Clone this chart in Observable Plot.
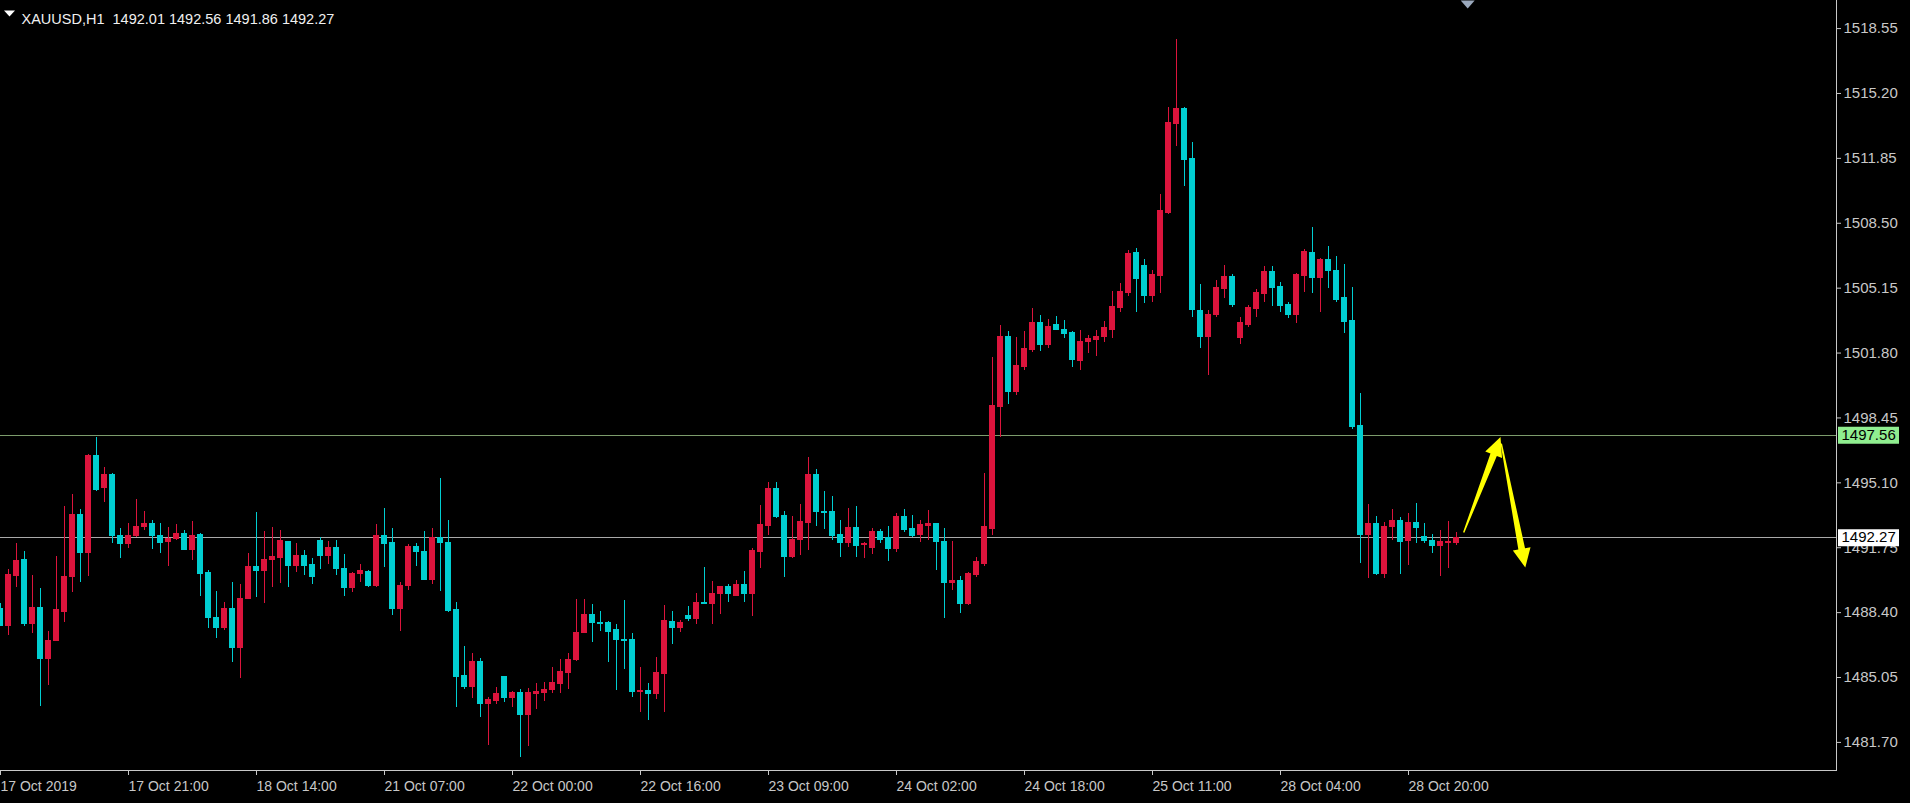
<!DOCTYPE html>
<html><head><meta charset="utf-8">
<script src="https://cdn.jsdelivr.net/npm/d3@7"></script>
<script src="https://cdn.jsdelivr.net/npm/@observablehq/plot@0.6"></script>
<style>
html,body{margin:0;padding:0;background:#000;}
#chart{position:relative;width:1910px;height:803px;overflow:hidden;}
</style></head><body><div id="chart"></div>
<script>
const titleText = "XAUUSD,H1  1492.01 1492.56 1491.86 1492.27";

const open = [1488.59,1487.73,1490.28,1491.12,1487.82,1488.63,1486.01,1486.96,1488.42,1490.23,
1493.46,1491.47,1496.51,1494.82,1495.48,1492.33,1491.95,1492.33,1492.81,1492.95,
1492.36,1492.03,1492.19,1492.47,1491.61,1492.43,1490.43,1488.13,1487.61,1488.59,
1486.58,1489.11,1490.78,1490.54,1491.12,1491.23,1492.07,1490.83,1491.30,1490.88,
1492.09,1491.30,1491.73,1490.66,1489.68,1490.37,1490.52,1489.75,1492.33,1491.98,
1488.59,1489.77,1491.78,1491.55,1490.11,1492.24,1492.02,1488.51,1485.12,1484.55,
1485.84,1483.69,1483.86,1485.07,1484.00,1484.26,1483.12,1484.21,1484.26,1484.38,
1484.72,1485.29,1485.93,1487.36,1488.30,1487.85,1487.85,1487.48,1487.01,1486.99,
1484.29,1484.35,1484.21,1485.24,1487.91,1487.61,1488.25,1488.08,1488.90,1488.85,
1489.34,1489.71,1489.28,1489.85,1489.34,1491.52,1492.86,1494.79,1493.41,1491.26,
1492.17,1493.02,1495.48,1493.62,1493.58,1492.41,1492.02,1492.76,1491.90,1491.73,
1492.55,1492.24,1491.69,1493.36,1492.74,1492.43,1492.86,1492.98,1492.07,1489.92,
1490.01,1488.82,1490.32,1490.92,1492.73,1499.00,1502.65,1499.81,1501.07,1501.98,
1503.34,1502.19,1503.27,1503.01,1502.84,1501.41,1502.36,1502.45,1502.65,1503.01,
1504.11,1504.89,1506.94,1506.27,1504.72,1505.80,1509.02,1513.63,1514.41,1511.83,
1503.99,1502.65,1503.74,1505.12,1505.71,1502.57,1503.27,1504.08,1504.86,1505.97,
1505.20,1504.29,1503.74,1505.80,1506.95,1505.66,1506.61,1506.06,1504.63,1503.43,
1498.02,1492.42,1492.95,1490.40,1492.81,1493.15,1492.09,1493.04,1492.29,1492.12,
1491.85,1491.99,1492.01];

const high = [1488.85,1490.61,1491.95,1491.55,1490.32,1489.63,1487.44,1491.30,1493.88,1494.50,
1493.70,1496.55,1497.42,1495.87,1495.60,1492.73,1492.98,1494.22,1493.64,1493.15,
1492.98,1492.81,1492.95,1492.64,1493.12,1492.47,1490.57,1489.51,1488.94,1489.94,
1489.85,1491.43,1493.57,1492.59,1492.81,1492.64,1492.09,1491.95,1491.61,1491.18,
1492.29,1492.09,1492.12,1491.40,1490.45,1490.88,1490.55,1492.95,1493.79,1492.73,
1489.97,1491.90,1491.95,1492.59,1492.76,1495.30,1493.15,1488.94,1486.67,1486.27,
1486.01,1484.03,1484.55,1485.10,1484.35,1484.41,1484.46,1484.76,1484.77,1485.58,
1485.98,1486.27,1489.08,1489.08,1488.80,1488.46,1487.94,1487.77,1489.03,1487.34,
1485.58,1484.72,1486.10,1488.77,1488.47,1487.99,1488.72,1489.37,1490.75,1490.01,
1489.75,1489.85,1490.06,1490.52,1491.69,1493.93,1495.10,1495.13,1493.64,1493.36,
1493.98,1496.39,1495.77,1494.65,1494.39,1493.15,1493.76,1493.88,1492.04,1492.73,
1492.67,1492.86,1493.50,1493.71,1493.41,1493.15,1493.67,1493.02,1492.73,1492.07,
1490.26,1490.45,1491.26,1495.57,1501.55,1503.22,1502.93,1502.62,1502.93,1504.11,
1503.74,1503.52,1503.69,1503.48,1502.93,1502.96,1502.71,1502.96,1503.43,1504.98,
1505.40,1507.10,1507.20,1506.63,1506.06,1509.98,1514.48,1517.99,1514.49,1512.68,
1505.34,1503.99,1505.54,1506.32,1505.85,1503.65,1504.25,1505.06,1506.27,1506.27,
1505.46,1504.42,1505.89,1507.13,1508.30,1506.66,1507.30,1506.78,1506.37,1505.17,
1499.70,1493.98,1493.36,1493.07,1493.71,1493.29,1493.50,1494.02,1493.02,1492.43,
1492.64,1493.12,1492.56];

const low = [1487.68,1487.22,1489.71,1487.70,1487.30,1483.55,1484.64,1486.90,1487.91,1489.45,
1489.97,1490.26,1494.67,1494.10,1491.95,1491.18,1491.69,1492.29,1492.64,1491.64,
1491.47,1490.80,1492.12,1491.61,1491.09,1489.23,1487.56,1487.05,1487.47,1485.81,
1485.01,1489.08,1489.20,1488.85,1489.71,1489.92,1489.71,1490.49,1490.32,1489.83,
1490.61,1490.88,1490.32,1489.23,1489.42,1489.97,1489.68,1489.71,1490.71,1488.25,
1487.44,1489.54,1490.80,1490.09,1489.83,1489.49,1488.42,1483.48,1484.41,1483.95,
1483.00,1481.54,1483.65,1483.78,1483.52,1480.94,1481.49,1483.38,1483.83,1484.21,
1484.21,1484.43,1485.89,1487.34,1486.87,1487.44,1485.84,1484.38,1485.45,1484.03,
1483.26,1482.83,1483.90,1483.26,1486.74,1487.36,1487.96,1487.79,1488.80,1487.77,
1488.29,1488.94,1489.25,1488.94,1488.22,1490.66,1492.38,1493.24,1490.21,1491.21,
1491.35,1491.61,1492.84,1492.69,1492.12,1491.26,1491.78,1491.26,1491.17,1491.40,
1491.95,1491.06,1491.52,1492.52,1492.29,1492.04,1492.12,1490.57,1488.08,1489.54,
1488.34,1488.77,1490.23,1490.78,1492.38,1497.45,1499.14,1499.61,1500.90,1501.84,
1501.89,1502.05,1502.96,1502.53,1501.04,1500.90,1501.76,1501.64,1502.36,1502.53,
1503.91,1504.70,1503.91,1504.36,1504.42,1504.89,1508.95,1512.46,1510.40,1503.65,
1502.02,1500.64,1503.65,1504.60,1504.17,1502.24,1503.10,1503.65,1504.42,1504.22,
1503.91,1503.57,1503.34,1504.94,1504.89,1503.91,1505.12,1504.42,1502.79,1497.84,
1490.92,1490.14,1490.32,1490.18,1492.12,1490.35,1490.83,1491.98,1491.95,1491.47,
1490.26,1490.66,1491.86];

const close = [1487.73,1490.32,1491.09,1487.82,1488.63,1486.01,1486.96,1488.51,1490.26,1493.46,
1491.47,1496.51,1494.74,1495.48,1492.33,1491.95,1492.38,1492.84,1492.98,1492.33,
1491.98,1492.21,1492.47,1491.64,1492.33,1490.40,1488.13,1487.61,1488.59,1486.58,
1489.11,1490.78,1490.54,1491.12,1491.26,1492.09,1490.83,1491.30,1490.83,1490.23,
1491.30,1491.73,1490.64,1489.68,1490.40,1490.54,1489.75,1492.33,1491.95,1488.59,
1489.80,1491.78,1491.52,1490.11,1492.24,1491.98,1488.47,1485.10,1484.55,1485.84,
1483.69,1483.90,1484.21,1484.00,1484.26,1483.12,1484.26,1484.29,1484.41,1484.76,
1485.33,1485.96,1487.36,1488.30,1487.87,1487.82,1487.41,1486.99,1486.96,1484.29,
1484.35,1484.21,1485.29,1487.96,1487.61,1487.85,1488.08,1488.90,1488.85,1489.34,
1489.71,1489.34,1489.85,1489.34,1491.57,1492.90,1494.79,1493.36,1491.26,1492.17,
1493.07,1495.48,1493.58,1493.55,1492.38,1491.98,1492.76,1491.86,1491.95,1492.55,
1492.17,1491.69,1493.36,1492.69,1492.36,1492.90,1492.98,1492.04,1489.92,1490.01,
1488.85,1490.37,1491.00,1492.81,1499.06,1502.65,1499.81,1501.12,1502.02,1503.34,
1502.22,1503.13,1503.00,1502.79,1501.45,1502.36,1502.51,1502.65,1503.08,1504.20,
1504.94,1506.90,1505.60,1504.77,1505.85,1509.11,1513.67,1514.41,1511.78,1504.03,
1502.65,1503.79,1505.15,1505.71,1504.29,1503.34,1504.14,1504.89,1505.97,1505.15,
1504.22,1503.74,1505.85,1507.01,1505.66,1506.61,1506.02,1504.55,1503.39,1497.97,
1492.42,1492.95,1490.37,1492.84,1493.15,1492.03,1493.04,1492.76,1492.09,1491.85,
1492.07,1492.07,1492.27];

const timeLabels = ["17 Oct 2019","17 Oct 21:00","18 Oct 14:00","21 Oct 07:00","22 Oct 00:00","22 Oct 16:00",
  "23 Oct 09:00","24 Oct 02:00","24 Oct 18:00","25 Oct 11:00","28 Oct 04:00","28 Oct 20:00"];
const timeLabelBars = [0,16,32,48,64,80,96,112,128,144,160,176];
const priceTicks = [1518.55,1515.20,1511.85,1508.50,1505.15,1501.80,1498.45,1495.10,1491.75,1488.40,1485.05,1481.70];
const levelPrices = [1497.56, 1492.27];
const levelLineColors = ["#7c9c6c", "#a9a9a9"];
const levelLabelColors = ["#90ee90", "#ffffff"];
const arrowTailBars = [182.9, 187.6];
const arrowTailPrices = [1492.54, 1497.13];
const arrowTipBars = [187.5, 190.6];
const arrowTipPrices = [1497.46, 1490.73];
const shiftMarkerBar = [183.4];

const W = 1910, H = 803, mL = 0, mR = 74, mT = 0, mB = 33;
const xDomain = [0, 229.5], yDomain = [1480.25, 1520.0];
const upColor = "#dc143c", downColor = "#00ced1";
const fmt = d3.format(".2f");

const bars = open.map((o, i) => ({i, open: o, high: high[i], low: low[i], close: close[i]}));
const col = d => d.close >= d.open ? upColor : downColor;
const levels = levelPrices.map((p, k) => ({price: p, line: levelLineColors[k], bg: levelLabelColors[k]}));

const sx = Plot.scale({x: {domain: xDomain, range: [mL, W - mR]}});
const sy = Plot.scale({y: {domain: yDomain, range: [H - mB, mT]}});

function rectSymbol(w, h) {
  return {draw(ctx) { ctx.rect(-w / 2, -h / 2, w, h); }};
}
function downTriangle(w, h) {
  return {draw(ctx) { ctx.moveTo(-w / 2, 0); ctx.lineTo(w / 2, 0); ctx.lineTo(0, h); ctx.closePath(); }};
}
function arrowSymbol(k) {
  const tx = sx.apply(arrowTipBars[k]), ty = sy.apply(arrowTipPrices[k]);
  const bx = sx.apply(arrowTailBars[k]), by = sy.apply(arrowTailPrices[k]);
  const vx = bx - tx, vy = by - ty, len = Math.hypot(vx, vy);
  const ux = vx / len, uy = vy / len, nx = -uy, ny = ux;
  const hl = 19, hw = 9, sw = 3.4, tw = 0.7;
  return {draw(ctx) {
    const px = ux * hl, py = uy * hl;
    ctx.moveTo(0, 0);
    ctx.lineTo(px + nx * hw, py + ny * hw);
    ctx.lineTo(px + nx * sw, py + ny * sw);
    ctx.lineTo(vx + nx * tw, vy + ny * tw);
    ctx.lineTo(vx - nx * tw, vy - ny * tw);
    ctx.lineTo(px - nx * sw, py - ny * sw);
    ctx.lineTo(px - nx * hw, py - ny * hw);
    ctx.closePath();
  }};
}

const arrowMarks = arrowTipBars.map((b, k) =>
  Plot.dot([{x: b, y: arrowTipPrices[k]}], {x: "x", y: "y", symbol: arrowSymbol(k), r: 5, fill: "#ffff00", stroke: "none"})
);

const chart = Plot.plot({
  width: W, height: H,
  marginLeft: mL, marginRight: mR, marginTop: mT, marginBottom: mB,
  style: {background: "#000", color: "#c8c8c8", fontFamily: "Liberation Sans, Arial, sans-serif", fontSize: "14px"},
  x: {domain: xDomain, axis: null},
  y: {domain: yDomain, axis: null},
  marks: [
    Plot.ruleY(levels, {y: "price", stroke: "line", strokeWidth: 1, shapeRendering: "crispEdges"}),
    Plot.ruleX(bars, {x: "i", y1: "low", y2: "high", stroke: col, strokeWidth: 1, shapeRendering: "crispEdges"}),
    Plot.rect(bars, {x1: d => d.i - 0.26, x2: d => d.i + 0.26, y1: "open", y2: "close", fill: col, stroke: col, strokeWidth: 1, shapeRendering: "crispEdges"}),
    ...arrowMarks,
    Plot.frame({anchor: "bottom", stroke: "#c8c8c8"}),
    Plot.frame({anchor: "right", stroke: "#c8c8c8"}),
    Plot.axisX(timeLabelBars, {anchor: "bottom", tickSize: 5, tickPadding: 6, tickFormat: d => timeLabels[timeLabelBars.indexOf(d)],
      textAnchor: "start", dx: 0, color: "#c8c8c8", fontSize: 14}),
    Plot.axisY(priceTicks, {anchor: "right", tickSize: 4, tickPadding: 3, tickFormat: fmt, color: "#c8c8c8", fontSize: 15}),
    Plot.dot(levels, {y: "price", frameAnchor: "right", dx: 32, symbol: rectSymbol(61, 17), r: 5, fill: "bg", stroke: "none"}),
    Plot.text(levels, {y: "price", text: d => fmt(d.price), frameAnchor: "right", dx: 5, textAnchor: "start", fill: "#000", fontSize: 15}),
    Plot.dot(shiftMarkerBar, {x: d => d, frameAnchor: "top", symbol: downTriangle(14, 8), r: 5, fill: "#9ba9bd", stroke: "none"}),
    Plot.dot([titleText], {frameAnchor: "top-left", dx: 9, dy: 10, symbol: downTriangle(11, 6), r: 5, fill: "#ffffff", stroke: "none"}),
    Plot.text([titleText], {text: d => d, frameAnchor: "top-left", dx: 21, dy: 13, textAnchor: "start", fill: "#f0f0f0", fontSize: 14.5})
  ]
});
document.getElementById("chart").appendChild(chart);
</script>
</body></html>
